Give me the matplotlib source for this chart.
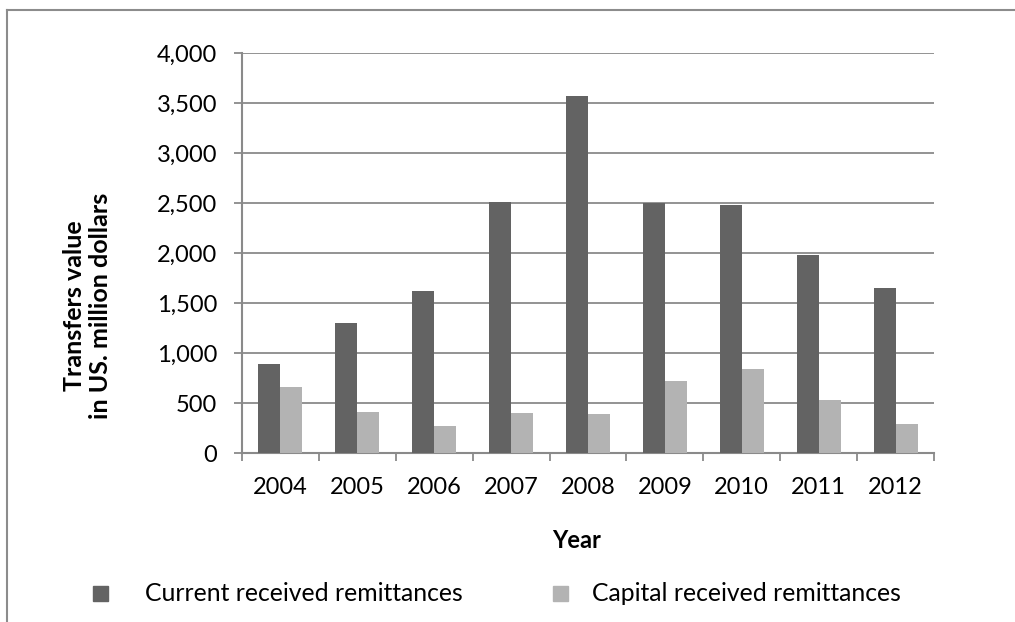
import numpy as np
import matplotlib.pyplot as plt
from matplotlib.lines import Line2D

years = ['2004', '2005', '2006', '2007', '2008', '2009', '2010', '2011', '2012']
current = [893, 1300, 1620, 2510, 3570, 2505, 2478, 1980, 1650]
capital = [663, 410, 268, 398, 390, 718, 843, 530, 293]

plt.rcParams['font.family'] = ['Lato', 'DejaVu Sans']

W, H = 1015, 622
fig = plt.figure(figsize=(W / 100, H / 100), dpi=100)

# axes box in pixels: x 242..934, y 53..453
ax = fig.add_axes([242 / W, 1 - 453 / H, 692 / W, 400 / H])

dark = '#636363'
light = '#b3b3b3'
gcol = '#8a8a8a'
bw = 0.286
x = np.arange(len(years))
ax.bar(x - bw / 2, current, bw, color=dark, zorder=3, label='Current received remittances')
ax.bar(x + bw / 2, capital, bw, color=light, zorder=3, label='Capital received remittances')

ax.set_xlim(-0.5, len(years) - 0.5)
ax.set_ylim(0, 4000)
ax.set_yticks(np.arange(0, 4001, 500))
ax.set_yticklabels(['{:,}'.format(v) for v in range(0, 4001, 500)])
ax.set_xticks(x)
ax.set_xticklabels(years)
ax.set_xticks(np.arange(-0.5, len(years)), minor=True)

ax.yaxis.grid(True, color=gcol, linewidth=1.3, zorder=0)
ax.set_axisbelow(True)
for s in ['top', 'right']:
    ax.spines[s].set_visible(False)
for s in ['left', 'bottom']:
    ax.spines[s].set_color(gcol)
    ax.spines[s].set_linewidth(1.5)

ax.tick_params(axis='y', direction='out', length=6, width=1.3, color=gcol,
               labelsize=17, pad=12)
ax.tick_params(axis='x', which='major', length=0, labelsize=17, pad=17)
ax.tick_params(axis='x', which='minor', direction='out', length=6, width=1.3, color=gcol)

fig.text(87.5 / W, 1 - 306 / H, 'Transfers value\nin US. million dollars',
         rotation=90, ha='center', va='center', multialignment='center',
         fontsize=18, fontweight='bold', linespacing=1.15)
fig.text(577 / W, 1 - 541 / H, 'Year', ha='center', va='center',
         fontsize=17, fontweight='bold')

# legend
fig.patches.append(plt.Rectangle((93 / W, 1 - 601 / H), 15 / W, 15 / H,
                                 transform=fig.transFigure, color=dark))
fig.patches.append(plt.Rectangle((553 / W, 1 - 601 / H), 15 / W, 15 / H,
                                 transform=fig.transFigure, color=light))
fig.text(145 / W, 1 - 593.5 / H, 'Current received remittances',
         ha='left', va='center', fontsize=17.8)
fig.text(592 / W, 1 - 593.5 / H, 'Capital received remittances',
         ha='left', va='center', fontsize=17.8)

# outer frame of the chart area
fig.add_artist(Line2D([7 / W, 1.0], [1 - 10 / H, 1 - 10 / H],
                      transform=fig.transFigure, color='#8c8c8c', linewidth=1.5))
fig.add_artist(Line2D([7 / W, 7 / W], [1 - 10 / H, 0],
                      transform=fig.transFigure, color='#8c8c8c', linewidth=1.5))

# caption above the frame, mostly outside the canvas
fig.text(80 / W, 1 + 11 / H, 'Figure 1: Current and capital foreign transfers in Palestine 2004-2012',
         ha='left', va='baseline', fontsize=28, fontweight='bold',
         family=['Liberation Serif', 'DejaVu Serif'])

fig.savefig('out.png', dpi=100)
